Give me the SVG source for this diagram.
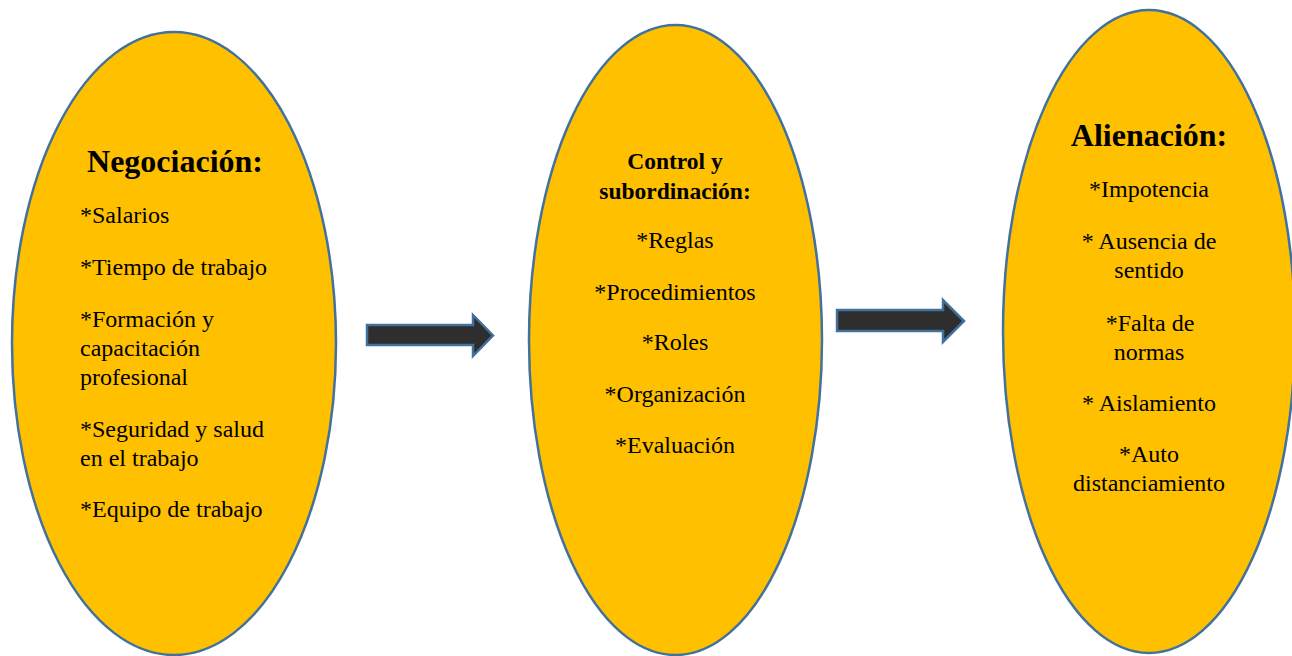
<svg xmlns="http://www.w3.org/2000/svg" width="1292" height="656" viewBox="0 0 1292 656">
<style>
.oval{fill:#FFC000;stroke:#41719C;stroke-width:2.5}
.arrow{fill:#2E2E2E;stroke:#41719C;stroke-width:2.5;stroke-linejoin:miter}
text{font-family:"Liberation Serif","Times New Roman","DejaVu Serif",serif;fill:#000}
.t{font-weight:bold;font-size:32px}
.t2{font-weight:bold;font-size:23.5px}
.i{font-size:24px}
.c{text-anchor:middle}
</style>
<rect width="1292" height="656" fill="#fff"/>
<g id="node-negociacion">
<ellipse class="oval" cx="174" cy="343.5" rx="162" ry="311.5"/>
<text class="t c" x="175" y="172">Negociación:</text>
<text class="i" x="80" y="223">*Salarios</text>
<text class="i" x="80" y="275">*Tiempo de trabajo</text>
<text class="i" x="80" y="327">*Formación y</text>
<text class="i" x="80" y="356">capacitación</text>
<text class="i" x="80" y="385">profesional</text>
<text class="i" x="80" y="437">*Seguridad y salud</text>
<text class="i" x="80" y="466">en el trabajo</text>
<text class="i" x="80" y="517">*Equipo de trabajo</text>
</g>
<g id="node-control">
<ellipse class="oval" cx="675.5" cy="340" rx="146.5" ry="315"/>
<text class="t2 c" x="675" y="169">Control y</text>
<text class="t2 c" x="675" y="199">subordinación:</text>
<text class="i c" x="675" y="248">*Reglas</text>
<text class="i c" x="675" y="300">*Procedimientos</text>
<text class="i c" x="675" y="350">*Roles</text>
<text class="i c" x="675" y="402">*Organización</text>
<text class="i c" x="675" y="453">*Evaluación</text>
</g>
<g id="node-alienacion">
<ellipse class="oval" cx="1149" cy="331.5" rx="146" ry="321.5"/>
<text class="t c" x="1149" y="146">Alienación:</text>
<text class="i c" x="1149" y="197">*Impotencia</text>
<text class="i c" x="1149" y="249">* Ausencia de</text>
<text class="i c" x="1149" y="278">sentido</text>
<text class="i c" x="1150" y="331">*Falta de</text>
<text class="i c" x="1149" y="360">normas</text>
<text class="i c" x="1149" y="411">* Aislamiento</text>
<text class="i c" x="1149" y="462">*Auto</text>
<text class="i c" x="1149" y="491">distanciamiento</text>
</g>
<g id="connectors">
<polygon class="arrow" points="367,325 473,325 473,315 493,335.5 473,356 473,345 367,345"/>
<polygon class="arrow" points="837,310 943,310 943,300 964,321 943,342 943,331 837,331"/>
</g>
</svg>
